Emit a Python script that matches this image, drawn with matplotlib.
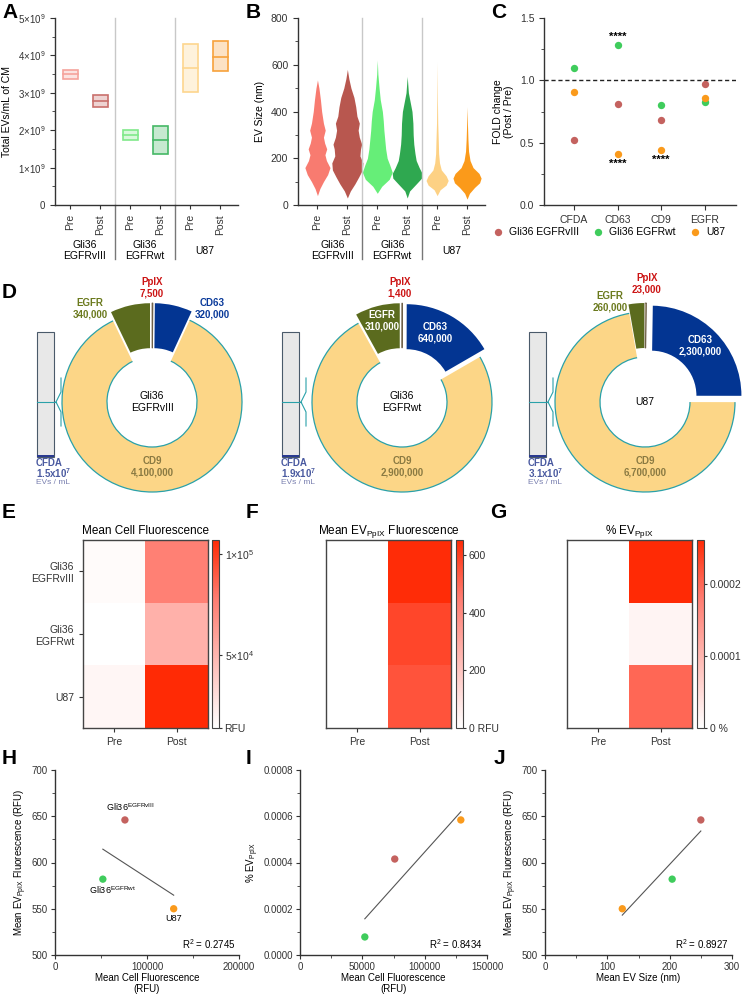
import numpy as np
import matplotlib
matplotlib.use("Agg")
import matplotlib.pyplot as plt
from matplotlib.patches import Wedge, Rectangle, Arc
from matplotlib.colors import LinearSegmentedColormap, to_rgba
from matplotlib.ticker import MultipleLocator, FormatStrFormatter

plt.rcParams["font.family"] = ["Liberation Sans", "DejaVu Sans"]
plt.rcParams["mathtext.default"] = "regular"
plt.rcParams["axes.linewidth"] = 1.0
plt.rcParams["axes.edgecolor"] = "#333333"
plt.rcParams["xtick.color"] = "#333333"
plt.rcParams["ytick.color"] = "#333333"

# ---------------------------------------------------------------------------
# Data
# ---------------------------------------------------------------------------
CELL_LINES = ["Gli36\nEGFRvIII", "Gli36\nEGFRwt", "U87"]
LEGEND_NAMES = ["Gli36 EGFRvIII", "Gli36 EGFRwt", "U87"]
LINE_COLORS = ["#c4625f", "#3fcc5c", "#fa9a1c"]
COND = ["Pre", "Post", "Pre", "Post", "Pre", "Post"]

# A - total EVs/mL (floating bars: min, max, mean)
A_low = [3.37e9, 2.63e9, 1.75e9, 1.36e9, 3.02e9, 3.57e9]
A_high = [3.62e9, 2.93e9, 2.00e9, 2.12e9, 4.30e9, 4.38e9]
A_mean = [3.50e9, 2.78e9, 1.87e9, 1.74e9, 3.65e9, 3.97e9]
A_colors = ["#f5a39c", "#c9706c", "#80e98a", "#45b866", "#fdd68e", "#f7a23c"]

# B - EV size violin outlines (size nm, half-width in category units)
B_sizes = [
    [40, 70, 100, 130, 160, 190, 215, 240, 265, 290, 320, 350, 400, 450, 500, 535],
    [30, 60, 90, 120, 150, 180, 210, 240, 260, 290, 320, 350, 380, 420, 460, 500, 540, 580],
    [50, 80, 110, 140, 170, 200, 240, 280, 320, 360, 400, 450, 500, 560, 620],
    [30, 60, 90, 115, 135, 160, 190, 220, 260, 300, 350, 400, 440, 480, 550],
    [40, 65, 85, 105, 125, 150, 180, 220, 270, 350, 450, 610],
    [25, 50, 75, 95, 115, 135, 160, 190, 230, 280, 340, 420],
]
B_widths = [
    [0, 0.08, 0.2, 0.34, 0.42, 0.3, 0.25, 0.31, 0.24, 0.2, 0.26, 0.2, 0.14, 0.1, 0.05, 0],
    [0, 0.1, 0.25, 0.38, 0.5, 0.52, 0.42, 0.44, 0.48, 0.4, 0.36, 0.4, 0.32, 0.28, 0.22, 0.12, 0.05, 0],
    [0, 0.15, 0.4, 0.5, 0.42, 0.33, 0.28, 0.25, 0.22, 0.2, 0.17, 0.1, 0.06, 0.02, 0],
    [0, 0.08, 0.3, 0.48, 0.5, 0.4, 0.3, 0.26, 0.22, 0.2, 0.19, 0.16, 0.1, 0.04, 0],
    [0, 0.1, 0.3, 0.37, 0.3, 0.14, 0.08, 0.05, 0.04, 0.02, 0.01, 0],
    [0, 0.08, 0.25, 0.42, 0.47, 0.4, 0.2, 0.1, 0.05, 0.03, 0.015, 0],
]
B_colors = ["#f87b70", "#b8574f", "#66ee78", "#2fa850", "#fdd184", "#fb9a1a"]

# C - fold change (post / pre)
C_markers = ["CFDA", "CD63", "CD9", "EGFR"]
C_vIII = [0.52, 0.81, 0.68, 0.97]
C_wt = [1.10, 1.28, 0.80, 0.83]
C_u87 = [0.91, 0.41, 0.44, 0.86]

# D - marker counts per donut
D_names = ["PpIX", "CD63", "CD9", "EGFR"]
D_vIII = [7500, 320000, 4100000, 340000]
D_wt = [1400, 640000, 2900000, 310000]
D_u87 = [23000, 2300000, 6700000, 260000]
D_labels_vIII = ["7,500", "320,000", "4,100,000", "340,000"]
D_labels_wt = ["1,400", "640,000", "2,900,000", "310,000"]
D_labels_u87 = ["23,000", "2,300,000", "6,700,000", "260,000"]
D_cfda = ["1.5x10$^7$", "1.9x10$^7$", "3.1x10$^7$"]
D_centers = ["Gli36\nEGFRvIII", "Gli36\nEGFRwt", "U87"]

# E-G heatmaps (rows: vIII, wt, U87; cols: Pre, Post)
E_pre = [16000, 14000, 18500]
E_post = [76000, 52000, 129000]
F_pre = [0, 0, 0]
F_post = [646, 582, 550]
G_pre = [0, 0, 0]
G_post = [0.00027, 0.000015, 0.0002]

# H-J correlations (order: vIII, wt, U87)
cell_fluor = [76000, 52000, 129000]
ev_fluor = [646, 582, 550]
pct_ev = [0.000415, 0.000078, 0.000584]
ev_size = [250, 204, 124]
R2 = ["0.2745", "0.8434", "0.8927"]

W, H = 742, 1000
fig = plt.figure(figsize=(W / 100, H / 100), dpi=100)


def px_rect(l, t, r, b):
    return [l / W, 1 - b / H, (r - l) / W, (b - t) / H]


def clean(ax):
    ax.spines["top"].set_visible(False)
    ax.spines["right"].set_visible(False)


def letter(x, y, s):
    fig.text(x / W, 1 - y / H, s, fontsize=15, fontweight="bold", va="center", ha="left")


for s, x, y in [("A", 2, 12), ("B", 246, 12), ("C", 491, 12), ("D", 2, 292),
                ("E", 2, 512), ("F", 246, 512), ("G", 490, 512),
                ("H", 2, 759), ("I", 246, 759), ("J", 494, 759)]:
    letter(x, y, s)

# ---------------------------------------------------------------------------
# A / B shared category layout
# ---------------------------------------------------------------------------
def category_axis(ax):
    x = np.arange(6)
    ax.set_xticks(x, COND, rotation=90, fontsize=7.5)
    ax.tick_params(axis="x", length=3)
    for gx, name in zip([0.5, 2.5, 4.5], CELL_LINES):
        ax.text(gx, -0.245, name, transform=ax.get_xaxis_transform(), ha="center",
                va="center", fontsize=7.5, linespacing=1.1)
    for xs in [1.5, 3.5]:
        ax.plot([xs, xs], [0, 1], transform=ax.get_xaxis_transform(), color="#c8c8c8",
                lw=1, clip_on=False)
        ax.plot([xs, xs], [-0.29, 0], transform=ax.get_xaxis_transform(), color="#777777",
                lw=1, clip_on=False)


axA = fig.add_axes(px_rect(55, 18, 238, 205))
clean(axA)
for i in range(6):
    c = A_colors[i]
    axA.bar(i, A_high[i] - A_low[i], bottom=A_low[i], width=0.5,
            facecolor=to_rgba(c, 0.3), edgecolor=c, lw=1.2)
    axA.plot([i - 0.25, i + 0.25], [A_mean[i], A_mean[i]], color=c, lw=1.2)
axA.set_xlim(-0.5, 5.6)
axA.set_ylim(0, 5e9)
axA.set_yticks([0, 1e9, 2e9, 3e9, 4e9, 5e9],
               ["0"] + [f"{k}×10$^9$" for k in range(1, 6)], fontsize=7)
axA.yaxis.set_minor_locator(MultipleLocator(0.5e9))
axA.set_ylabel("Total EVs/mL of CM", fontsize=7.5)
category_axis(axA)

axB = fig.add_axes(px_rect(298, 18, 485, 205))
clean(axB)
for i in range(6):
    s = np.array(B_sizes[i])
    w = np.array(B_widths[i])
    axB.fill_betweenx(s, i - w, i + w, color=B_colors[i], lw=0)
axB.set_xlim(-0.65, 5.6)
axB.set_ylim(0, 800)
axB.set_yticks([0, 200, 400, 600, 800])
axB.tick_params(axis="y", labelsize=7.5)
axB.yaxis.set_minor_locator(MultipleLocator(100))
axB.set_ylabel("EV Size (nm)", fontsize=7.5)
category_axis(axB)

# ---------------------------------------------------------------------------
# C - fold change
# ---------------------------------------------------------------------------
axC = fig.add_axes(px_rect(544, 18, 736, 205))
clean(axC)
xc = np.arange(4)
handles = []
for vals, col, name in zip([C_vIII, C_wt, C_u87], LINE_COLORS, LEGEND_NAMES):
    h = axC.scatter(xc, vals, s=28, color=col, zorder=3, label=name, lw=0)
    handles.append(h)
axC.axhline(1.0, color="#222222", lw=1, ls=(0, (3, 2)), zorder=1)
axC.text(1, 1.31, "****", ha="center", va="bottom", fontsize=8, fontweight="bold")
axC.text(1, 0.37, "****", ha="center", va="top", fontsize=8, fontweight="bold")
axC.text(2, 0.40, "****", ha="center", va="top", fontsize=8, fontweight="bold")
axC.set_xlim(-0.69, 3.72)
axC.set_ylim(0, 1.5)
axC.set_xticks(xc, C_markers, fontsize=7.5)
axC.set_yticks([0, 0.5, 1.0, 1.5])
axC.yaxis.set_major_formatter(FormatStrFormatter("%.1f"))
axC.yaxis.set_minor_locator(MultipleLocator(0.25))
axC.tick_params(axis="y", labelsize=7.5)
axC.set_ylabel("FOLD change\n(Post / Pre)", fontsize=7.5)
fig.legend(handles=handles, loc="center", bbox_to_anchor=(0.817, 1 - 232 / H), ncol=3,
           frameon=False, fontsize=7.5, handletextpad=0.1, columnspacing=0.8,
           markerscale=1.0, borderaxespad=0)

# ---------------------------------------------------------------------------
# D - donuts (axes in pixel units)
# ---------------------------------------------------------------------------
axD = fig.add_axes(px_rect(0, 270, 742, 505))
axD.set_xlim(0, W)
axD.set_ylim(H - 505, H - 270)
axD.axis("off")

TEAL = "#2aa1a9"
WEDGE_COLORS = {"PpIX": "#d9ccb2", "CD63": "#033592", "CD9": "#fcd687", "EGFR": "#5b6b1e"}
R_OUT, RING, EXPLODE = 90, 45, 9


def donut(cx, cy, vals, labels, center, cfda, bar_x, label_pos, label_inside):
    Y = lambda py: H - py
    vals = np.array(vals, dtype=float)
    angles = 360 * vals / vals.sum()
    t_end = 90.0
    for name, a in zip(D_names, angles):
        t1, t2 = t_end - a, t_end
        mid = np.deg2rad((t1 + t2) / 2)
        off = 0 if name == "CD9" else EXPLODE
        c = (cx + off * np.cos(mid), Y(cy) + off * np.sin(mid))
        if name == "PpIX":
            kw = dict(facecolor=WEDGE_COLORS[name], edgecolor="#6e6048", lw=0.6)
        else:
            kw = dict(facecolor=WEDGE_COLORS[name], edgecolor="none")
        axD.add_patch(Wedge(c, R_OUT, t1, t2, width=RING, **kw))
        if name == "CD9":
            # teal outline on the arcs only
            for rr in (R_OUT, R_OUT - RING):
                axD.add_patch(Arc(c, 2 * rr, 2 * rr, theta1=t1, theta2=t2,
                                  color=TEAL, lw=0.9))
        t_end = t1
    axD.text(cx, Y(cy), center, ha="center", va="center", fontsize=7.5, linespacing=1.2)

    text_cols = {"PpIX": "#cc1414", "CD63": "#0a3a9a", "CD9": "#8a7a42", "EGFR": "#6b7a1e"}
    for name, lab in zip(D_names, labels):
        px, py = label_pos[name]
        col = "white" if name in label_inside else text_cols[name]
        axD.text(px, Y(py), f"{name}\n{lab}", ha="center", va="center", fontsize=7,
                 fontweight="bold", color=col, linespacing=1.15)

    # CFDA column
    bl, br, bt, bb = bar_x, bar_x + 17, 332, 457
    axD.add_patch(Rectangle((bl, Y(bb)), br - bl, bb - bt, facecolor="#e8e8e8",
                            edgecolor="#4a5a6a", lw=0.8))
    axD.add_patch(Rectangle((bl, Y(bb)), br - bl, 2.2, facecolor="#2a3a90", edgecolor="none"))
    axD.plot([bl, br + 2], [Y(402), Y(402)], color=TEAL, lw=0.8)
    axD.plot([br + 2, br + 7, br + 7], [Y(402), Y(392), Y(378)], color=TEAL, lw=0.8)
    axD.plot([br + 2, br + 7, br + 7], [Y(402), Y(412), Y(426)], color=TEAL, lw=0.8)
    axD.text(bl - 1, Y(463), "CFDA", ha="left", va="center", fontsize=7,
             fontweight="bold", color="#4a5aa0")
    axD.text(bl - 1, Y(473), cfda, ha="left", va="center", fontsize=7,
             fontweight="bold", color="#4a5aa0")
    axD.text(bl - 1, Y(483), "EVs / mL", ha="left", va="center", fontsize=6,
             color="#7a80b0")


donut(152, 402, D_vIII, D_labels_vIII, D_centers[0], D_cfda[0], 37,
      {"PpIX": (152, 288), "CD63": (212, 309), "CD9": (152, 467), "EGFR": (90, 309)}, [])
donut(402, 402, D_wt, D_labels_wt, D_centers[1], D_cfda[1], 282,
      {"PpIX": (400, 288), "CD63": (435, 333), "CD9": (402, 467), "EGFR": (382, 321)},
      ["CD63", "EGFR"])
donut(645, 402, D_u87, D_labels_u87, D_centers[2], D_cfda[2], 529,
      {"PpIX": (647, 284), "CD63": (700, 346), "CD9": (645, 467), "EGFR": (610, 302)},
      ["CD63"])

# ---------------------------------------------------------------------------
# E-G heatmaps
# ---------------------------------------------------------------------------
cmap = LinearSegmentedColormap.from_list(
    "wr", [(0, "#ffffff"), (0.7, "#ff7a6e"), (1.0, "#ff2a05")])


def heatmap(l, r, cb_l, pre, post, vmin, vmax, title, ticks, ticklabels, ylabels):
    ax = fig.add_axes(px_rect(l, 540, r, 728))
    data = np.column_stack([pre, post])
    im = ax.imshow(data, cmap=cmap, vmin=vmin, vmax=vmax, aspect="auto",
                   interpolation="nearest")
    ax.set_xticks([0, 1], ["Pre", "Post"], fontsize=7.5)
    if ylabels:
        ax.set_yticks([0, 1, 2], CELL_LINES, fontsize=7.5)
    else:
        ax.set_yticks([])
    ax.tick_params(length=3)
    ax.set_title(title, fontsize=8.5, pad=4)
    for sp in ax.spines.values():
        sp.set_color("#444444")
    cax = fig.add_axes(px_rect(cb_l, 540, cb_l + 7, 728))
    cb = fig.colorbar(im, cax=cax)
    cb.set_ticks(ticks, labels=ticklabels)
    cb.ax.tick_params(labelsize=7.5, length=2, width=0.8, pad=2)
    cb.outline.set_edgecolor("#444444")
    cb.outline.set_linewidth(0.8)


heatmap(83, 208, 212, E_pre, E_post, 14000, 107000, "Mean Cell Fluorescence",
        [14000, 50000, 100000], ["RFU", "5×10$^4$", "1×10$^5$"], True)
heatmap(326, 451, 456, F_pre, F_post, 0, 652, "Mean EV$_{PpIX}$ Fluorescence",
        [0, 200, 400, 600], ["0 RFU", "200", "400", "600"], False)
heatmap(567, 692, 697, G_pre, G_post, 0, 0.000261, "% EV$_{PpIX}$",
        [0, 0.0001, 0.0002], ["0 %", "0.0001", "0.0002"], False)

# ---------------------------------------------------------------------------
# H-J correlations
# ---------------------------------------------------------------------------
def corr(rect, xs, ys, xlim, ylim, xmaj, xmin, ymaj, ymin, xlabel, ylabel, r2, yfmt=None):
    ax = fig.add_axes(px_rect(*rect))
    clean(ax)
    ax.scatter(xs, ys, s=28, color=LINE_COLORS, zorder=3, lw=0)
    k, b = np.polyfit(xs, ys, 1)
    xl = np.array([min(xs), max(xs)])
    ax.plot(xl, k * xl + b, color="#555555", lw=0.8, zorder=2)
    ax.set_xlim(*xlim)
    ax.set_ylim(*ylim)
    ax.xaxis.set_major_locator(MultipleLocator(xmaj))
    ax.xaxis.set_minor_locator(MultipleLocator(xmin))
    ax.yaxis.set_major_locator(MultipleLocator(ymaj))
    ax.yaxis.set_minor_locator(MultipleLocator(ymin))
    if yfmt:
        ax.yaxis.set_major_formatter(FormatStrFormatter(yfmt))
    ax.tick_params(labelsize=7, length=3, pad=2)
    ax.tick_params(which="minor", length=2)
    ax.set_xlabel(xlabel, fontsize=7, labelpad=1, linespacing=1.05)
    ax.set_ylabel(ylabel, fontsize=7, labelpad=2)
    ax.text(0.98, 0.02, f"R$^2$ = {r2}", transform=ax.transAxes, ha="right",
            va="bottom", fontsize=7)
    return ax


axH = corr((55, 770, 239, 955), cell_fluor, ev_fluor, (0, 200000), (500, 700),
           100000, 50000, 50, 25, "Mean Cell Fluorescence\n(RFU)",
           "Mean EV$_{PpIX}$ Fluorescence (RFU)", R2[0])
axH.annotate("Gli36$^{EGFRvIII}$", (cell_fluor[0], ev_fluor[0]), xytext=(4, 5),
             textcoords="offset points", ha="center", va="bottom", fontsize=6.5)
axH.annotate("Gli36$^{EGFRwt}$", (cell_fluor[1], ev_fluor[1]), xytext=(7, -4),
             textcoords="offset points", ha="center", va="top", fontsize=6.5)
axH.annotate("U87", (cell_fluor[2], ev_fluor[2]), xytext=(0, -4),
             textcoords="offset points", ha="center", va="top", fontsize=6.5)

corr((300, 770, 487, 955), cell_fluor, pct_ev, (0, 150000), (0, 0.0008),
     50000, 25000, 0.0002, 0.0001, "Mean Cell Fluorescence\n(RFU)",
     "% EV$_{PpIX}$", R2[1], yfmt="%.4f")
corr((545, 770, 732, 955), ev_size, ev_fluor, (0, 300), (500, 700),
     100, 50, 50, 25, "Mean EV Size (nm)",
     "Mean EV$_{PpIX}$ Fluorescence (RFU)", R2[2])

fig.savefig("out.png", dpi=100)
